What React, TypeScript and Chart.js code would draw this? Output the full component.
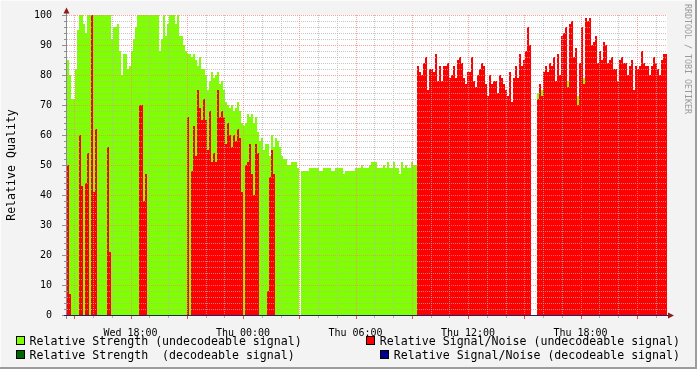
import React, { useEffect, useRef } from "react";
import { Chart, registerables } from "chart.js";

Chart.register(...registerables);

// Time axis (hours counted from Wed 00:00); one sample every 6.4 minutes
const SAMPLE_START_HOUR = 14.613;
const SAMPLE_STEP_HOURS = 32 / 300;
const X_MIN = 14.613;
const X_MAX = 46.613;

const xTickHours = [18, 24, 30, 36, 42];
const xTickLabels = ["Wed 18:00", "Thu 00:00", "Thu 06:00", "Thu 12:00", "Thu 18:00"];

const Y_MIN = 0;
const Y_MAX = 100;
const Y_STEP = 10;

const yAxisTitle = "Relative Quality";
const watermark = "RRDTOOL / TOBI OETIKER";

// Relative Strength (undecodeable signal)
const strengthUndecodeable: (number | null)[] = [
  85, 80, 72, 72, 82, 95, 100, 100, 97, 94,
  100, 100, 100, 100, 100, 100, 100, 100, 100, 100,
  100, 100, 92, 96, 96, 97, 88, 80, 87, 87,
  82, 83, 88, 92, 96, 100, 100, 100, 100, 100,
  100, 100, 100, 100, 100, 100, 88, 92, 100, 93,
  97, 100, 100, 100, 97, 100, 93, 93, 90, 88,
  87, 87, 86, 87, 85, 83, 86, 82, 82, 80,
  75, 78, 81, 79, 80, 81, 77, 78, 75, 71,
  70, 69, 70, 68, 69, 71, 68, 64, 63, 64,
  67, 66, 67, 64, 66, 61, 58, 59, 55, 57,
  57, 53, 60, 56, 59, 58, 56, 53, 52, 52,
  50, 50, 51, 51, 51, 49, null, 48, 48, 48,
  48, 49, 49, 49, 49, 49, 48, 48, 49, 49,
  49, 49, 48, 48, 49, 49, 49, 49, 47, 48,
  48, 48, 48, 48, 49, 49, 49, 50, 49, 49,
  49, 50, 51, 51, 51, 49, 49, 49, 50, 49,
  51, 49, 49, 51, 49, 49, 47, 51, 49, 50,
  49, 49, 51, 50, 50, null, null, null, null, null,
  null, null, null, null, null, null, null, null, null, null,
  null, null, null, null, null, null, null, null, null, null,
  null, null, null, null, null, null, null, null, null, null,
  null, null, null, null, null, null, null, null, null, null,
  null, null, null, null, null, null, null, null, null, null,
  null, null, null, null, null, 74, null, 75, null, null,
  null, null, null, null, null, null, null, null, null, null,
  78, null, null, null, null, 73, null, null, 79, null,
  null, null, null, null, null, null, null, null, null, null,
  null, null, null, null, null, null, null, null, null, null,
  null, null, null, null, null, null, null, null, null, null,
  null, null, null, null, null, null, null, null, null, null,
];

// Relative Signal/Noise (undecodeable signal)
const snrUndecodeable: (number | null)[] = [
  50, 7, null, null, null, null, 60, 43, null, 44,
  54, null, 100, 41, 62, null, null, null, null, null,
  56, 21, null, null, null, null, null, null, null, null,
  null, null, null, null, null, null, 70, 70, 38, 47,
  null, null, null, null, null, null, null, null, null, null,
  null, null, null, null, null, null, null, null, null, null,
  66, null, 48, 63, 53, 75, 69, 65, 72, 65,
  55, 68, 51, 54, 51, 75, 66, 68, 66, 57,
  64, 60, 56, 60, 58, 62, 59, 41, null, 50,
  51, 57, 47, 40, 57, 54, null, null, null, null,
  8, 46, 55, 47, null, null, null, null, null, null,
  null, null, null, null, null, null, null, null, null, null,
  null, null, null, null, null, null, null, null, null, null,
  null, null, null, null, null, null, null, null, null, null,
  null, null, null, null, null, null, null, null, null, null,
  null, null, null, null, null, null, null, null, null, null,
  null, null, null, null, null, null, null, null, null, null,
  null, null, null, null, null, 83, 81, 80, 84, 86,
  75, 82, 82, 81, 87, 78, 83, 78, 83, 83,
  84, 79, 80, 83, 79, 85, 86, 84, 79, 77,
  81, 81, 86, 78, 76, 80, 82, 84, 83, 77,
  73, 80, 77, 78, 78, 74, 80, 79, 77, 75,
  73, 81, 71, 79, 83, 79, 87, 83, 85, 88,
  96, 90, null, null, null, 72, 77, 73, 81, 83,
  81, 84, 83, 86, 78, 87, 80, 93, 94, 96,
  76, 97, 98, 86, 89, 70, 84, 96, 77, 99,
  98, 99, 90, 91, 93, 84, 88, 85, 91, 90,
  84, 85, 86, 82, 82, 78, 85, 86, 84, 84,
  80, 83, 85, 75, 83, 82, 83, 88, 84, 83,
  83, 80, 83, 86, 84, 82, 80, 85, 87, 87,
];

// Decodeable-signal series (no samples in this period)
const strengthDecodeable: (number | null)[] = [];
const snrDecodeable: (number | null)[] = [];

const seriesLabels = [
  "Relative Strength (undecodeable signal)",
  "Relative Signal/Noise (undecodeable signal)",
  "Relative Strength  (decodeable signal)",
  "Relative Signal/Noise (decodeable signal)",
];
const seriesColors = ["#80FF00", "#FF0000", "#006600", "#000090"];

const MONO = '"DejaVu Sans Mono", monospace';
const MAJOR_GRID = "rgba(255,128,128,0.75)";
const MINOR_GRID = "rgba(180,180,180,0.75)";

const rrdPlugin: any = {
  id: "rrdLook",
  beforeDraw(chart: any) {
    const { ctx, width, height, chartArea: a } = chart;
    ctx.save();
    ctx.fillStyle = "#F3F3F3";
    ctx.fillRect(0, 0, width, height);
    ctx.fillStyle = "#FFFFFF";
    ctx.fillRect(a.left, a.top, a.right - a.left, a.bottom - a.top);
    ctx.fillStyle = "#FBFBFB";
    ctx.fillRect(0, 0, width, 1);
    ctx.fillRect(0, 0, 1, height);
    ctx.fillStyle = "#9C9C9C";
    ctx.fillRect(0, height - 2, width, 2);
    ctx.fillRect(width - 2, 0, 2, height);
    ctx.restore();
  },
  afterDatasetsDraw(chart: any) {
    const { ctx, chartArea: a, scales } = chart;
    const xs = scales.x;
    const ys = scales.y;
    ctx.save();
    ctx.lineWidth = 1;
    ctx.setLineDash([1, 1]);
    // horizontal grid: minor every 2, major every 10
    for (let v = Y_MIN + 2; v <= Y_MAX; v += 2) {
      const y = Math.round(ys.getPixelForValue(v)) + 0.5;
      ctx.strokeStyle = v % 10 === 0 ? MAJOR_GRID : MINOR_GRID;
      ctx.beginPath();
      ctx.moveTo(a.left, y);
      ctx.lineTo(a.right, y);
      ctx.stroke();
    }
    // vertical grid: minor every hour, major every 3 hours
    for (let h = Math.ceil(xs.min); h <= xs.max; h++) {
      const x = Math.round(xs.getPixelForValue(h)) + 0.5;
      ctx.strokeStyle = h % 3 === 0 ? MAJOR_GRID : MINOR_GRID;
      ctx.beginPath();
      ctx.moveTo(x, a.top);
      ctx.lineTo(x, a.bottom);
      ctx.stroke();
    }
    ctx.setLineDash([]);
    // y ticks
    for (let v = Y_MIN; v <= Y_MAX; v += 2) {
      const y = Math.round(ys.getPixelForValue(v));
      ctx.fillStyle = "#909090";
      if (v % 10 === 0) ctx.fillRect(a.left - 5, y, 4, 1);
      else ctx.fillRect(a.left - 3, y, 2, 1);
    }
    // x ticks
    for (let h = Math.ceil(xs.min); h <= xs.max; h++) {
      const x = Math.round(xs.getPixelForValue(h));
      if (h % 3 === 0) {
        ctx.fillStyle = "rgba(230,60,60,0.9)";
        ctx.fillRect(x, a.bottom + 1, 1, 3);
      } else {
        ctx.fillStyle = "#B0B0B0";
        ctx.fillRect(x, a.bottom + 1, 1, 2);
      }
    }
    // y axis line
    ctx.strokeStyle = "#8A8A8A";
    ctx.beginPath();
    ctx.moveTo(a.left - 0.5, a.top - 2);
    ctx.lineTo(a.left - 0.5, a.bottom + 4);
    ctx.stroke();
    // x axis line
    ctx.strokeStyle = "#20206E";
    ctx.beginPath();
    ctx.moveTo(a.left - 3, a.bottom + 0.5);
    ctx.lineTo(a.right + 1, a.bottom + 0.5);
    ctx.stroke();
    // arrows
    ctx.fillStyle = "#8E1B1B";
    ctx.beginPath();
    ctx.moveTo(a.left - 3.5, a.top - 1.5);
    ctx.lineTo(a.left + 2.5, a.top - 1.5);
    ctx.lineTo(a.left - 0.5, a.top - 7.5);
    ctx.closePath();
    ctx.fill();
    ctx.beginPath();
    ctx.moveTo(a.right + 1, a.bottom - 2.5);
    ctx.lineTo(a.right + 1, a.bottom + 3.5);
    ctx.lineTo(a.right + 7, a.bottom + 0.5);
    ctx.closePath();
    ctx.fill();
    ctx.restore();
  },
  afterDraw(chart: any) {
    const { ctx, chartArea: a, width } = chart;
    ctx.save();
    // y axis title
    ctx.font = `11.6px ${MONO}`;
    ctx.fillStyle = "#000";
    ctx.textAlign = "center";
    ctx.textBaseline = "alphabetic";
    ctx.save();
    ctx.translate(15, (a.top + a.bottom) / 2);
    ctx.rotate(-Math.PI / 2);
    ctx.fillText(yAxisTitle, 0, 0);
    ctx.restore();
    // watermark
    ctx.save();
    ctx.font = `8.3px ${MONO}`;
    ctx.fillStyle = "#9A9A9A";
    ctx.textAlign = "left";
    ctx.translate(685, 4);
    ctx.rotate(Math.PI / 2);
    ctx.fillText(watermark, 0, 0);
    ctx.restore();
    // legend: 2 rows, left column left-aligned, right column right-aligned
    ctx.font = `11.6px ${MONO}`;
    ctx.textAlign = "left";
    const rows = [345, 359];
    const drawEntry = (label: string, color: string, textX: number, baseY: number) => {
      const bx = Math.round(textX - 14);
      const by = baseY - 9;
      ctx.fillStyle = "#000";
      ctx.fillRect(bx, by, 9, 9);
      ctx.fillStyle = color;
      ctx.fillRect(bx + 1, by + 1, 7, 7);
      ctx.fillStyle = "#000";
      ctx.fillText(label, textX, baseY);
    };
    const rightEdge = width - 17;
    drawEntry(seriesLabels[0], seriesColors[0], 29.5, rows[0]);
    drawEntry(seriesLabels[1], seriesColors[1], rightEdge - ctx.measureText(seriesLabels[1]).width, rows[0]);
    drawEntry(seriesLabels[2], seriesColors[2], 29.5, rows[1]);
    drawEntry(seriesLabels[3], seriesColors[3], rightEdge - ctx.measureText(seriesLabels[3]).width, rows[1]);
    ctx.restore();
  },
};

export default function App() {
  const ref = useRef<HTMLCanvasElement>(null);
  useEffect(() => {
    const canvas = ref.current!;
    const toPoints = (vals: (number | null)[]) =>
      vals.map((v, i) => ({ x: SAMPLE_START_HOUR + (i + 0.5) * SAMPLE_STEP_HOURS, y: v }));
    const chart = new Chart(canvas, {
      type: "bar",
      data: {
        datasets: [
          { label: seriesLabels[1], data: toPoints(snrUndecodeable) as any, backgroundColor: seriesColors[1], order: 0 },
          { label: seriesLabels[0], data: toPoints(strengthUndecodeable) as any, backgroundColor: seriesColors[0], order: 1 },
          { label: seriesLabels[3], data: toPoints(snrDecodeable) as any, backgroundColor: seriesColors[3], order: 2 },
          { label: seriesLabels[2], data: toPoints(strengthDecodeable) as any, backgroundColor: seriesColors[2], order: 3 },
        ],
      },
      options: {
        responsive: false,
        animation: false,
        devicePixelRatio: 1,
        layout: { padding: { left: 0, top: 15, right: 30, bottom: 0 } },
        datasets: {
          bar: {
            grouped: false,
            barPercentage: 1,
            categoryPercentage: 1,
            borderWidth: 0,
            inflateAmount: 0,
          },
        } as any,
        plugins: { legend: { display: false }, tooltip: { enabled: false }, title: { display: false } },
        scales: {
          x: {
            type: "linear",
            min: X_MIN,
            max: X_MAX,
            offset: false,
            grid: { display: false },
            border: { display: false },
            afterBuildTicks: (scale: any) => {
              scale.ticks = xTickHours.map((v) => ({ value: v }));
            },
            afterFit: (scale: any) => {
              scale.height = 54;
              scale.paddingLeft = 0;
              scale.paddingRight = 0;
            },
            ticks: {
              autoSkip: false,
              maxRotation: 0,
              minRotation: 0,
              padding: 4,
              color: "#000",
              font: { family: MONO, size: 10 },
              callback: (value: any) => {
                const idx = xTickHours.indexOf(Number(value));
                return idx >= 0 ? xTickLabels[idx] : "";
              },
            },
          },
          y: {
            type: "linear",
            min: Y_MIN,
            max: Y_MAX,
            grid: { display: false },
            border: { display: false },
            afterFit: (scale: any) => {
              scale.width = 67;
              scale.paddingTop = 0;
              scale.paddingBottom = 0;
            },
            ticks: {
              stepSize: Y_STEP,
              padding: 7,
              color: "#000",
              font: { family: MONO, size: 10 },
            },
          },
        },
      } as any,
      plugins: [rrdPlugin],
    });
    return () => chart.destroy();
  }, []);
  return (
    <div style={{ position: "absolute", left: 0, top: 0, width: 697, height: 369 }}>
      <canvas ref={ref} width={697} height={369} style={{ display: "block", width: 697, height: 369 }} />
    </div>
  );
}
